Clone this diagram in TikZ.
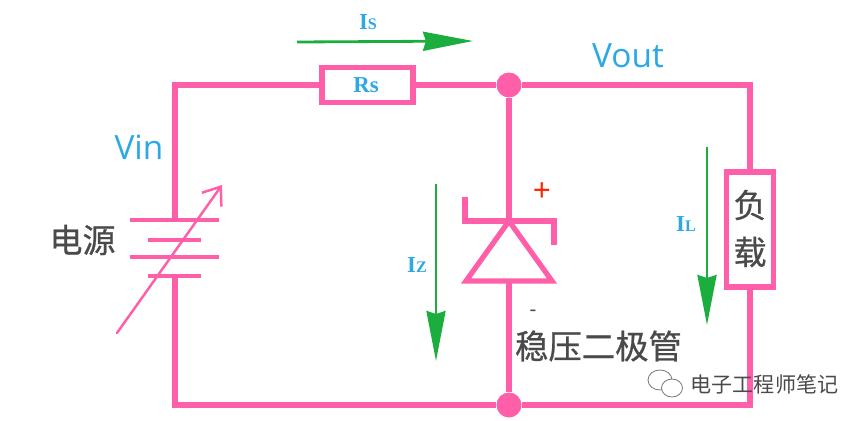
\documentclass[tikz,border=0pt]{standalone}
\usepackage{fontspec}
\setmainfont{Open Sans}
\newfontfamily\cjk{Noto Sans CJK SC}
\newfontfamily\cjkheavy{Noto Sans CJK SC}[FakeBold=0.7]
\newfontfamily\serifb{Liberation Serif}[BoldFont={Liberation Serif Bold}]
\usetikzlibrary{arrows.meta, shapes.geometric}
\definecolor{wirepink}{HTML}{FF5FA8}
\definecolor{labelblue}{HTML}{2BA8E6}
\definecolor{flowgreen}{HTML}{1BAE3F}
\definecolor{textgray}{HTML}{4A4A4A}
\tikzset{
  wire/.style={draw=wirepink, line width=1.5pt},
  plate/.style={draw=wirepink, line width=1.15pt},
  junction/.style={circle, fill=wirepink, inner sep=0pt, minimum size=0.25cm},
  box/.style={draw=wirepink, line width=1.5pt, fill=white, inner sep=0pt},
  flow/.style={draw=flowgreen, line width=0.8pt, -{Stealth[length=0.5cm, width=0.19cm, inset=0.03cm]}},
  volt/.style={text=labelblue, font=\fontsize{9.5}{11}\selectfont, inner sep=0pt},
  cur/.style={text=labelblue, font=\fontsize{6.5}{8}\selectfont\serifb\bfseries, inner sep=0pt},
  zh/.style={text=textgray, font=\fontsize{9.4}{11}\selectfont\cjkheavy, inner sep=0pt},
  chat/.style={draw=gray, line width=0.25pt, ellipse, inner sep=0pt, fill=white}
}
\begin{document}
\begin{tikzpicture}
  \useasboundingbox (0, 0) rectangle (8.65, -4.21);
  % corners
  \coordinate (TL) at (1.75, -0.85);
  \coordinate (TR) at (7.5, -0.85);
  \coordinate (BL) at (1.75, -4.05);
  \coordinate (BR) at (7.5, -4.05);
  % battery
  \coordinate (PA) at (1.75, -2.2);
  \coordinate (PB) at (1.75, -2.4);
  \coordinate (PC) at (1.75, -2.57);
  \coordinate (PD) at (1.75, -2.76);
  \coordinate (TuneS) at (1.17, -3.33);
  \coordinate (TuneE) at (2.22, -1.85);
  % diode
  \coordinate (ZT) at (5.09, -2.21);
  \coordinate (ZB) at (5.09, -2.81);
  \coordinate (ZL) at (4.66, -2.81);
  \coordinate (ZR) at (5.52, -2.81);
  \coordinate (BarL) at (4.65, -2.21);
  \coordinate (BarR) at (5.54, -2.21);
  \coordinate (TipL) at (4.65, -1.97);
  \coordinate (TipR) at (5.54, -2.45);

  \node[box, minimum width=0.91cm, minimum height=0.35cm] (Rs) at (3.675, -0.85) {};
  \node[box, minimum width=0.47cm, minimum height=1.15cm] (Load) at (7.5, -2.295) {};
  \node[junction] (JT) at (5.09, -0.85) {};
  \node[junction] (JB) at (5.09, -4.05) {};

  \draw[wire] (PA) -- (TL) -- (Rs);
  \draw[wire] (Rs) -- (JT);
  \draw[wire] (JT) -- (TR) -- (Load);
  \draw[wire] (Load) -- (BR) -- (JB);
  \draw[wire] (JB) -- (BL) -- (PD);
  \draw[wire] (JT) -- (ZT);
  \draw[wire] (ZB) -- (JB);

  \draw[wire, line join=miter] (TipL) -- (BarL) -- (BarR) -- (TipR);
  \draw[wire, line join=miter] (ZT) -- (ZL) -- (ZR) -- cycle;

  \draw[plate] ([xshift=-0.45cm]PA) -- ([xshift=0.44cm]PA);
  \draw[plate] ([xshift=-0.27cm]PB) -- ([xshift=0.26cm]PB);
  \draw[plate] ([xshift=-0.45cm]PC) -- ([xshift=0.44cm]PC);
  \draw[plate] ([xshift=-0.27cm]PD) -- ([xshift=0.26cm]PD);
  \draw[draw=wirepink, line width=0.7pt, line cap=round, -{Straight Barb[length=0.16cm, width=0.24cm]}] (TuneS) -- (TuneE);

  \coordinate (IsS) at (2.97, -0.42);
  \coordinate (IsE) at (4.73, -0.41);
  \coordinate (IzS) at (4.36, -1.84);
  \coordinate (IzE) at (4.36, -3.61);
  \coordinate (IlS) at (7.07, -1.47);
  \coordinate (IlE) at (7.07, -3.25);
  \draw[flow] (IsS) -- (IsE);
  \draw[flow] (IzS) -- (IzE);
  \draw[flow] (IlS) -- (IlE);

  \node[cur] (IsLabel) at (3.68, -0.22) {I{\fontsize{4.6}{5}\selectfont S}};
  \node[cur] (RsLabel) at (3.66, -0.85) {Rs};
  \node[cur] (IzLabel) at (4.17, -2.65) {I{\fontsize{4.6}{5}\selectfont Z}};
  \node[cur] (IlLabel) at (6.86, -2.24) {I{\fontsize{4.6}{5}\selectfont L}};

  \node[volt] (Vin) at (1.39, -1.47) {Vin};
  \node[volt] (Vout) at (6.28, -0.56) {Vout};
  \node[zh] (Source) at (0.825, -2.4) {电源};
  \node[zh] (LoadUp) at (7.5, -2.05) {负};
  \node[zh] (LoadDown) at (7.5, -2.52) {载};
  \node[zh, font=\fontsize{9.5}{11}\selectfont\cjkheavy] (Zener) at (5.985, -3.46) {稳压二极管};
  \node[text=red!75!orange, font=\fontsize{9}{10}\selectfont, inner sep=0pt] (Plus) at (5.42, -1.92) {+};
  \node[text=textgray, font=\fontsize{6}{7}\selectfont, inner sep=0pt] (Minus) at (5.33, -3.13) {-};

  % watermark
  \node[text=textgray, font=\fontsize{6}{7}\selectfont\cjk, inner sep=0pt] (Mark) at (7.645, -3.84) {电子工程师笔记};
  \node[chat, minimum width=0.24cm, minimum height=0.2cm] (ChatA) at (6.6, -3.8) {};
  \node[chat, minimum width=0.21cm, minimum height=0.18cm] (ChatB) at (6.72, -3.88) {};
\end{tikzpicture}
\end{document}
